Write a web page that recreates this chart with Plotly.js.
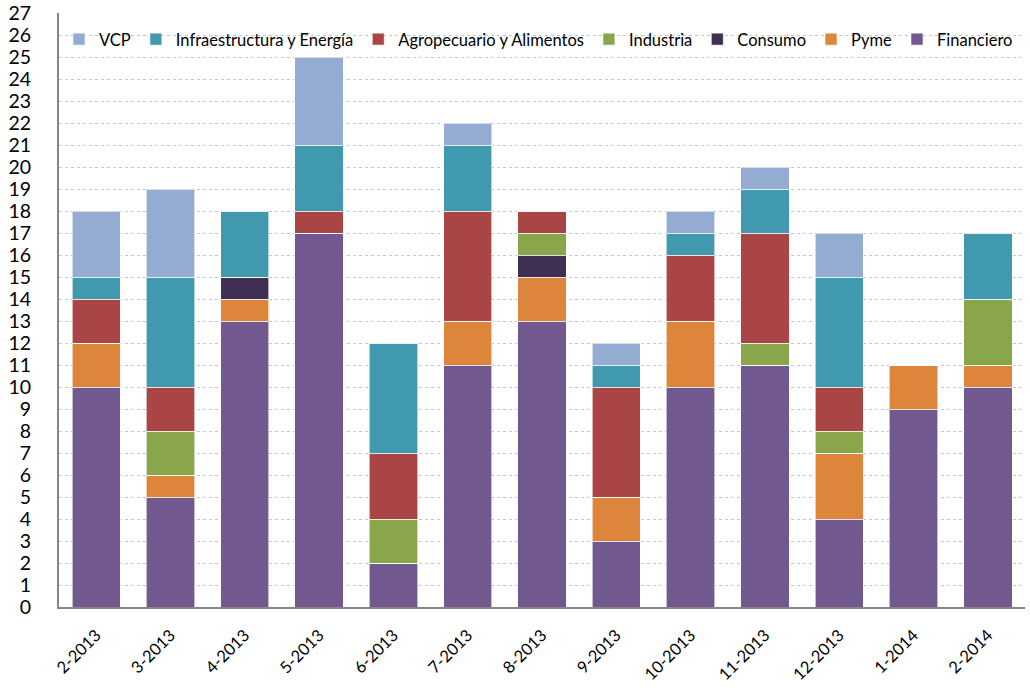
<!DOCTYPE html>
<html>
<head>
<meta charset="utf-8">
<script src="https://cdn.plot.ly/plotly-3.0.1.min.js"></script>
<style>html,body{margin:0;padding:0;background:#fff;}#chart{width:1030px;height:691px;}</style>
</head>
<body>
<div id="chart"></div>
<script>
const categories = ["2-2013","3-2013","4-2013","5-2013","6-2013","7-2013","8-2013","9-2013","10-2013","11-2013","12-2013","1-2014","2-2014"];
const financiero      = [10, 5, 13, 17, 2, 11, 13, 3, 10, 11, 4, 9, 10];
const pyme            = [ 2, 1,  1,  0, 0,  2,  2, 2,  3,  0, 3, 2,  1];
const consumo         = [ 0, 0,  1,  0, 0,  0,  1, 0,  0,  0, 0, 0,  0];
const industria       = [ 0, 2,  0,  0, 2,  0,  1, 0,  0,  1, 1, 0,  3];
const agropecuario    = [ 2, 2,  0,  1, 3,  5,  1, 5,  3,  5, 2, 0,  0];
const infraestructura = [ 1, 5,  3,  3, 5,  3,  0, 1,  1,  2, 5, 0,  3];
const vcp             = [ 3, 4,  0,  4, 0,  1,  0, 1,  1,  1, 2, 0,  0];
const seriesNames = ["Financiero","Pyme","Consumo","Industria","Agropecuario y Alimentos","Infraestructura y Energía","VCP"];
const seriesValues = [financiero, pyme, consumo, industria, agropecuario, infraestructura, vcp];
const seriesColors = ["#71598f","#de853c","#3f2f53","#89a64b","#a94544","#4099ae","#94abd2"];
const yTicks = Array.from({length: 28}, (_, i) => i);

const traces = seriesNames.map((name, i) => ({
  type: "bar",
  name: name,
  x: categories,
  y: seriesValues[i],
  marker: {color: seriesColors[i], line: {color: "rgba(255,255,255,0.6)", width: 1}},
  hoverinfo: "x+y+name"
}));

const layout = {
  width: 1030, height: 691,
  margin: {l: 59, r: 5, t: 13, b: 84},
  barmode: "stack",
  bargap: 0.35,
  paper_bgcolor: "#ffffff",
  plot_bgcolor: "#ffffff",
  font: {family: "Lato, 'Liberation Sans', sans-serif", color: "#000000", size: 16},
  showlegend: true,
  legend: {
    orientation: "h",
    traceorder: "reversed",
    x: 0.0, xanchor: "left",
    y: 0.985, yanchor: "top",
    bgcolor: "rgba(255,255,255,0)",
    font: {size: 16.5, color: "#000"},
    itemwidth: 30
  },
  xaxis: {
    type: "category",
    tickangle: -45,
    tickfont: {size: 16.5},
    showline: true, linecolor: "#868686", linewidth: 2,
    showgrid: false, ticks: "",
    ticklabelstandoff: 10
  },
  yaxis: {
    range: [0, 27],
    tickvals: yTicks,
    ticktext: yTicks.map(String),
    tickfont: {size: 19.5},
    showline: true, linecolor: "#868686", linewidth: 2,
    showgrid: true, gridcolor: "#b7c9e6", griddash: "dot", gridwidth: 1,
    zeroline: false, ticks: "",
    ticklabelstandoff: 22
  }
};

Plotly.newPlot("chart", traces, layout, {displayModeBar: false, staticPlot: true});
</script>
</body>
</html>
